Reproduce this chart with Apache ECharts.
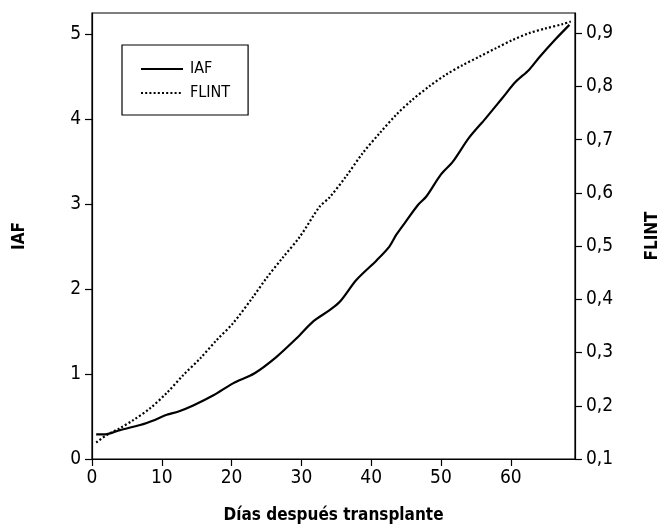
<!DOCTYPE html>
<html>
<head>
<meta charset="utf-8">
<script src="https://cdn.jsdelivr.net/npm/echarts@6/dist/echarts.min.js"></script>
<style>
html,body{margin:0;padding:0;background:#fff;}
#chart{width:659px;height:525px;}
</style>
</head>
<body>
<div id="chart"></div>
<script>
// ---- data ----
const xTicks = [0, 10, 20, 30, 40, 50, 60];
const iafTicks = [0, 1, 2, 3, 4, 5];
const flintTicks = [0.1, 0.2, 0.3, 0.4, 0.5, 0.6, 0.7, 0.8, 0.9];

const iafDays = [0.6, 1.9, 4.0, 6.9, 9.0, 10.7, 12.4, 14.5, 17.4, 20.2, 23.3, 26.4, 29.3, 31.7, 34.0, 35.5, 37.9, 40.8, 42.6, 43.6, 45.0, 46.7, 47.9, 50.0, 51.7, 54.0, 56.4, 58.8, 60.7, 62.6, 64.0, 66.4, 68.4];
const iafValues = [0.29, 0.29, 0.34, 0.40, 0.46, 0.52, 0.56, 0.63, 0.75, 0.89, 1.01, 1.20, 1.42, 1.62, 1.75, 1.85, 2.11, 2.34, 2.50, 2.64, 2.80, 2.99, 3.09, 3.35, 3.50, 3.78, 4.01, 4.25, 4.44, 4.58, 4.72, 4.94, 5.11];

const flintDays = [0.6, 2.1, 4.0, 5.9, 8.3, 10.7, 13.1, 15.5, 17.9, 20.2, 23.1, 25.0, 27.3, 29.8, 32.6, 34.0, 36.4, 38.8, 41.2, 43.6, 45.9, 48.3, 50.7, 53.1, 55.5, 57.9, 60.2, 62.6, 65.0, 67.4, 68.6];
const flintValues = [0.131, 0.145, 0.158, 0.173, 0.195, 0.224, 0.258, 0.289, 0.324, 0.355, 0.405, 0.440, 0.478, 0.518, 0.574, 0.591, 0.631, 0.675, 0.712, 0.747, 0.775, 0.800, 0.822, 0.840, 0.856, 0.872, 0.887, 0.900, 0.909, 0.917, 0.922];

const seriesNames = ['IAF', 'FLINT'];
const xTitle = 'Días después transplante';

const FONT = '"Liberation Sans Narrow", "DejaVu Sans Condensed", "Liberation Sans", sans-serif';

const chart = echarts.init(document.getElementById('chart'), null, {renderer: 'canvas'});

function pairs(xs, ys) { return xs.map((x, i) => [x, ys[i]]); }

const axisCommon = {
  axisLine: {show: true, lineStyle: {color: '#000', width: 1.2}},
  axisTick: {show: true, inside: false, length: 7, lineStyle: {color: '#000', width: 1.2}},
  splitLine: {show: false},
  nameTextStyle: {fontFamily: FONT, fontWeight: 'bold', fontSize: 17, color: '#000'}
};

chart.setOption({
  animation: false,
  backgroundColor: '#fff',
  textStyle: {fontFamily: FONT, color: '#000'},
  grid: {left: 92, top: 13, right: 84, bottom: 66, show: true, borderColor: '#000', borderWidth: 1.2,
    containLabel: false, outerBoundsMode: 'none'},
  legend: {
    left: 122, top: 45,
    orient: 'vertical',
    data: seriesNames,
    itemWidth: 42, itemHeight: 14, itemGap: 8,
    padding: [16, 18, 14, 18],
    borderColor: '#000', borderWidth: 1.2,
    itemStyle: {opacity: 0},
    textStyle: {fontFamily: FONT, fontSize: 16, color: '#000', padding: [0, 0, 0, 2]}
  },
  xAxis: Object.assign({}, axisCommon, {
    type: 'value', min: 0, max: 69.2, interval: 10,
    name: xTitle, nameLocation: 'middle', nameGap: 48,
    axisTick: Object.assign({}, axisCommon.axisTick, {customValues: xTicks}),
    axisLabel: {customValues: xTicks, fontFamily: FONT, fontSize: 19, color: '#000', margin: 10}
  }),
  yAxis: [
    Object.assign({}, axisCommon, {
      type: 'value', min: 0, max: 5.25, interval: 1, position: 'left',
      name: seriesNames[0], nameLocation: 'middle', nameRotate: 90, nameGap: 64,
      axisTick: Object.assign({}, axisCommon.axisTick, {customValues: iafTicks}),
      axisLabel: {customValues: iafTicks, fontFamily: FONT, fontSize: 19, color: '#000', margin: 11}
    }),
    Object.assign({}, axisCommon, {
      type: 'value', min: 0.1, max: 0.938, interval: 0.1, position: 'right',
      name: seriesNames[1], nameLocation: 'middle', nameRotate: 90, nameGap: 69,
      axisTick: Object.assign({}, axisCommon.axisTick, {customValues: flintTicks}),
      axisLabel: {customValues: flintTicks, fontFamily: FONT, fontSize: 19, color: '#000', margin: 11,
        formatter: v => v.toFixed(1).replace('.', ',')}
    })
  ],
  series: [
    {
      name: seriesNames[0], type: 'line', yAxisIndex: 0,
      data: pairs(iafDays, iafValues),
      symbol: 'none', smooth: 0.3,
      lineStyle: {color: '#000', width: 2.2, type: 'solid'},
      itemStyle: {color: '#000'}
    },
    {
      name: seriesNames[1], type: 'line', yAxisIndex: 1,
      data: pairs(flintDays, flintValues),
      symbol: 'none', smooth: 0.3,
      lineStyle: {color: '#000', width: 2.2, type: [2, 2.2]},
      itemStyle: {color: '#000'}
    }
  ]
});
</script>
</body>
</html>
